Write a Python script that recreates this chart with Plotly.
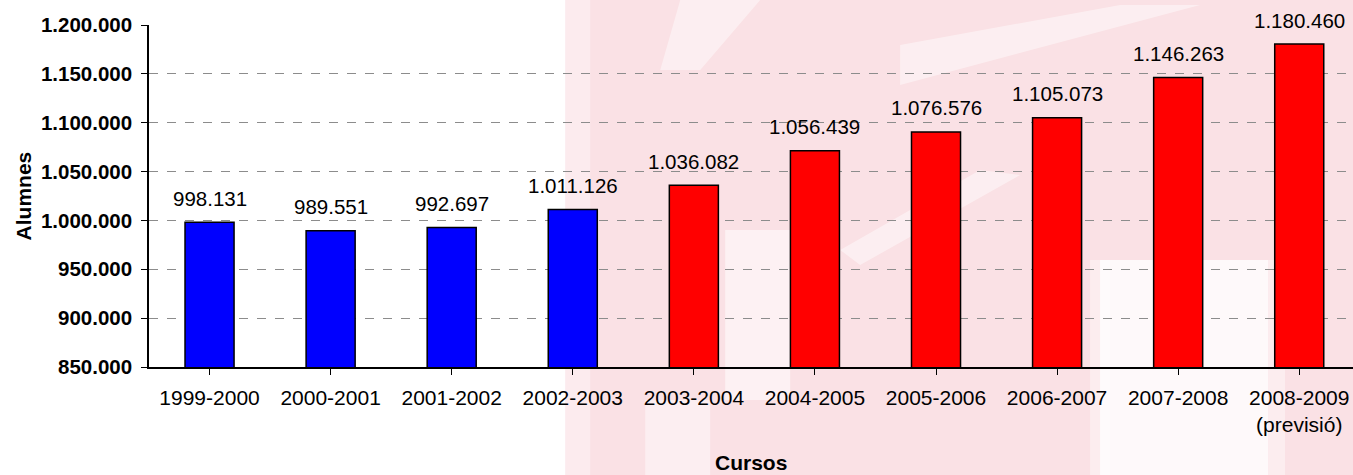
import plotly.graph_objects as go

# ---- data ----
cursos = ["1999-2000", "2000-2001", "2001-2002", "2002-2003", "2003-2004",
          "2004-2005", "2005-2006", "2006-2007", "2007-2008", "2008-2009"]
tick_labels = ["1999-2000", "2000-2001", "2001-2002", "2002-2003", "2003-2004",
               "2004-2005", "2005-2006", "2006-2007", "2007-2008", "2008-2009<br>(previsió)"]
# bar heights as drawn in the picture
alumnes = [998131, 989551, 992697, 1011126, 1036082,
           1071400, 1090600, 1105073, 1146263, 1180460]
# value labels as printed in the picture
etiquetes = ["998.131", "989.551", "992.697", "1.011.126", "1.036.082",
             "1.056.439", "1.076.576", "1.105.073", "1.146.263", "1.180.460"]
colors = ["#0000FF"] * 4 + ["#FF0000"] * 6
y_ticks = [850000, 900000, 950000, 1000000, 1050000, 1100000, 1150000, 1200000]
y_tick_text = ["850.000", "900.000", "950.000", "1.000.000", "1.050.000",
               "1.100.000", "1.150.000", "1.200.000"]

FONT = "Arial, Liberation Sans, sans-serif"
W, H = 1353, 475
ML, MT, MB = 148.6, 25, 108
PW, PH = W - ML, H - MT - MB

def px(x):
    return (x - ML) / PW

def py(y):
    return (H - MB - y) / PH

fig = go.Figure()
fig.add_trace(go.Bar(
    x=list(range(len(cursos))), y=alumnes,
    marker=dict(color=colors, line=dict(color="black", width=1.5)),
    width=0.405, hoverinfo="skip", showlegend=False,
))

# background watermark (soft pink)
shapes = []
pink = "rgba(245,195,203,0.5)"
shapes.append(dict(type="rect", xref="paper", yref="paper", x0=px(565), x1=px(1353),
                   y0=py(475), y1=py(0), fillcolor=pink, line=dict(width=0), layer="below"))
for (x0, x1, y0, y1, a) in [(1100, 1268, 260, 475, 0.8), (1090, 1110, 260, 475, 0.4),
                            (1268, 1285, 260, 475, 0.4),
                            (725, 790, 230, 400, 0.55), (645, 710, 400, 475, 0.45),
                            (565, 590, 0, 475, 0.35)]:
    shapes.append(dict(type="rect", xref="paper", yref="paper", x0=px(x0), x1=px(x1),
                       y0=py(y1), y1=py(y0), fillcolor=f"rgba(255,255,255,{a})",
                       line=dict(width=0), layer="below"))
# soft diagonal light streaks
for path in [
    f"M {px(680)},{py(0)} L {px(760)},{py(0)} L {px(700)},{py(70)} L {px(660)},{py(70)} Z",
    f"M {px(900)},{py(45)} L {px(1120)},{py(5)} L {px(1200)},{py(5)} L {px(900)},{py(85)} Z",
    f"M {px(840)},{py(250)} L {px(980)},{py(170)} L {px(1020)},{py(175)} L {px(860)},{py(265)} Z",
]:
    shapes.append(dict(type="path", xref="paper", yref="paper", path=path,
                       fillcolor="rgba(255,255,255,0.45)", line=dict(width=0), layer="below"))

annotations = []
for i, (v, t) in enumerate(zip(alumnes, etiquetes)):
    annotations.append(dict(x=i, y=v, xref="x", yref="y", text=t, showarrow=False,
                            yanchor="middle", yshift=24,
                            font=dict(family=FONT, size=20.5, color="black")))
annotations.append(dict(x=0.5, y=0, xref="paper", yref="paper", text="<b>Cursos</b>",
                        showarrow=False, yanchor="middle", yshift=-95,
                        font=dict(family=FONT, size=21, color="black")))
annotations.append(dict(x=0, y=0.5, xref="paper", yref="paper", text="<b>Alumnes</b>",
                        showarrow=False, xanchor="center", yanchor="middle",
                        xshift=23 - ML, textangle=-90,
                        font=dict(family=FONT, size=21, color="black")))

fig.update_layout(
    width=W, height=H,
    margin=dict(l=ML, r=0, t=MT, b=MB, pad=0),
    paper_bgcolor="white", plot_bgcolor="rgba(0,0,0,0)",
    font=dict(family=FONT, color="black"),
    shapes=shapes, annotations=annotations,
    bargap=0.6,
    xaxis=dict(
        range=[-0.5, 9.444], tickmode="array", tickvals=list(range(len(cursos))),
        ticktext=tick_labels, tickson="boundaries", ticks="outside", ticklen=6,
        tickcolor="black", tickwidth=1, showline=True, linecolor="black", linewidth=1.5,
        showgrid=False, zeroline=False, ticklabelstandoff=5,
        tickfont=dict(family=FONT, size=21, color="black"), fixedrange=True,
    ),
    yaxis=dict(
        range=[850000, 1200000], tickmode="array", tickvals=y_ticks, ticktext=y_tick_text,
        ticks="outside", ticklen=6, tickcolor="black", tickwidth=1,
        showline=True, linecolor="black", linewidth=1.5,
        showgrid=True, gridcolor="#8c8c8c", gridwidth=1, griddash="dash",
        zeroline=False, ticklabelstandoff=5,
        tickfont=dict(family=FONT, size=20.5, color="black", weight="bold"), fixedrange=True,
    ),
)

fig.write_html("out.html", config={"displayModeBar": False},
               post_script="document.body.style.margin='0';document.body.style.overflow='hidden';")
